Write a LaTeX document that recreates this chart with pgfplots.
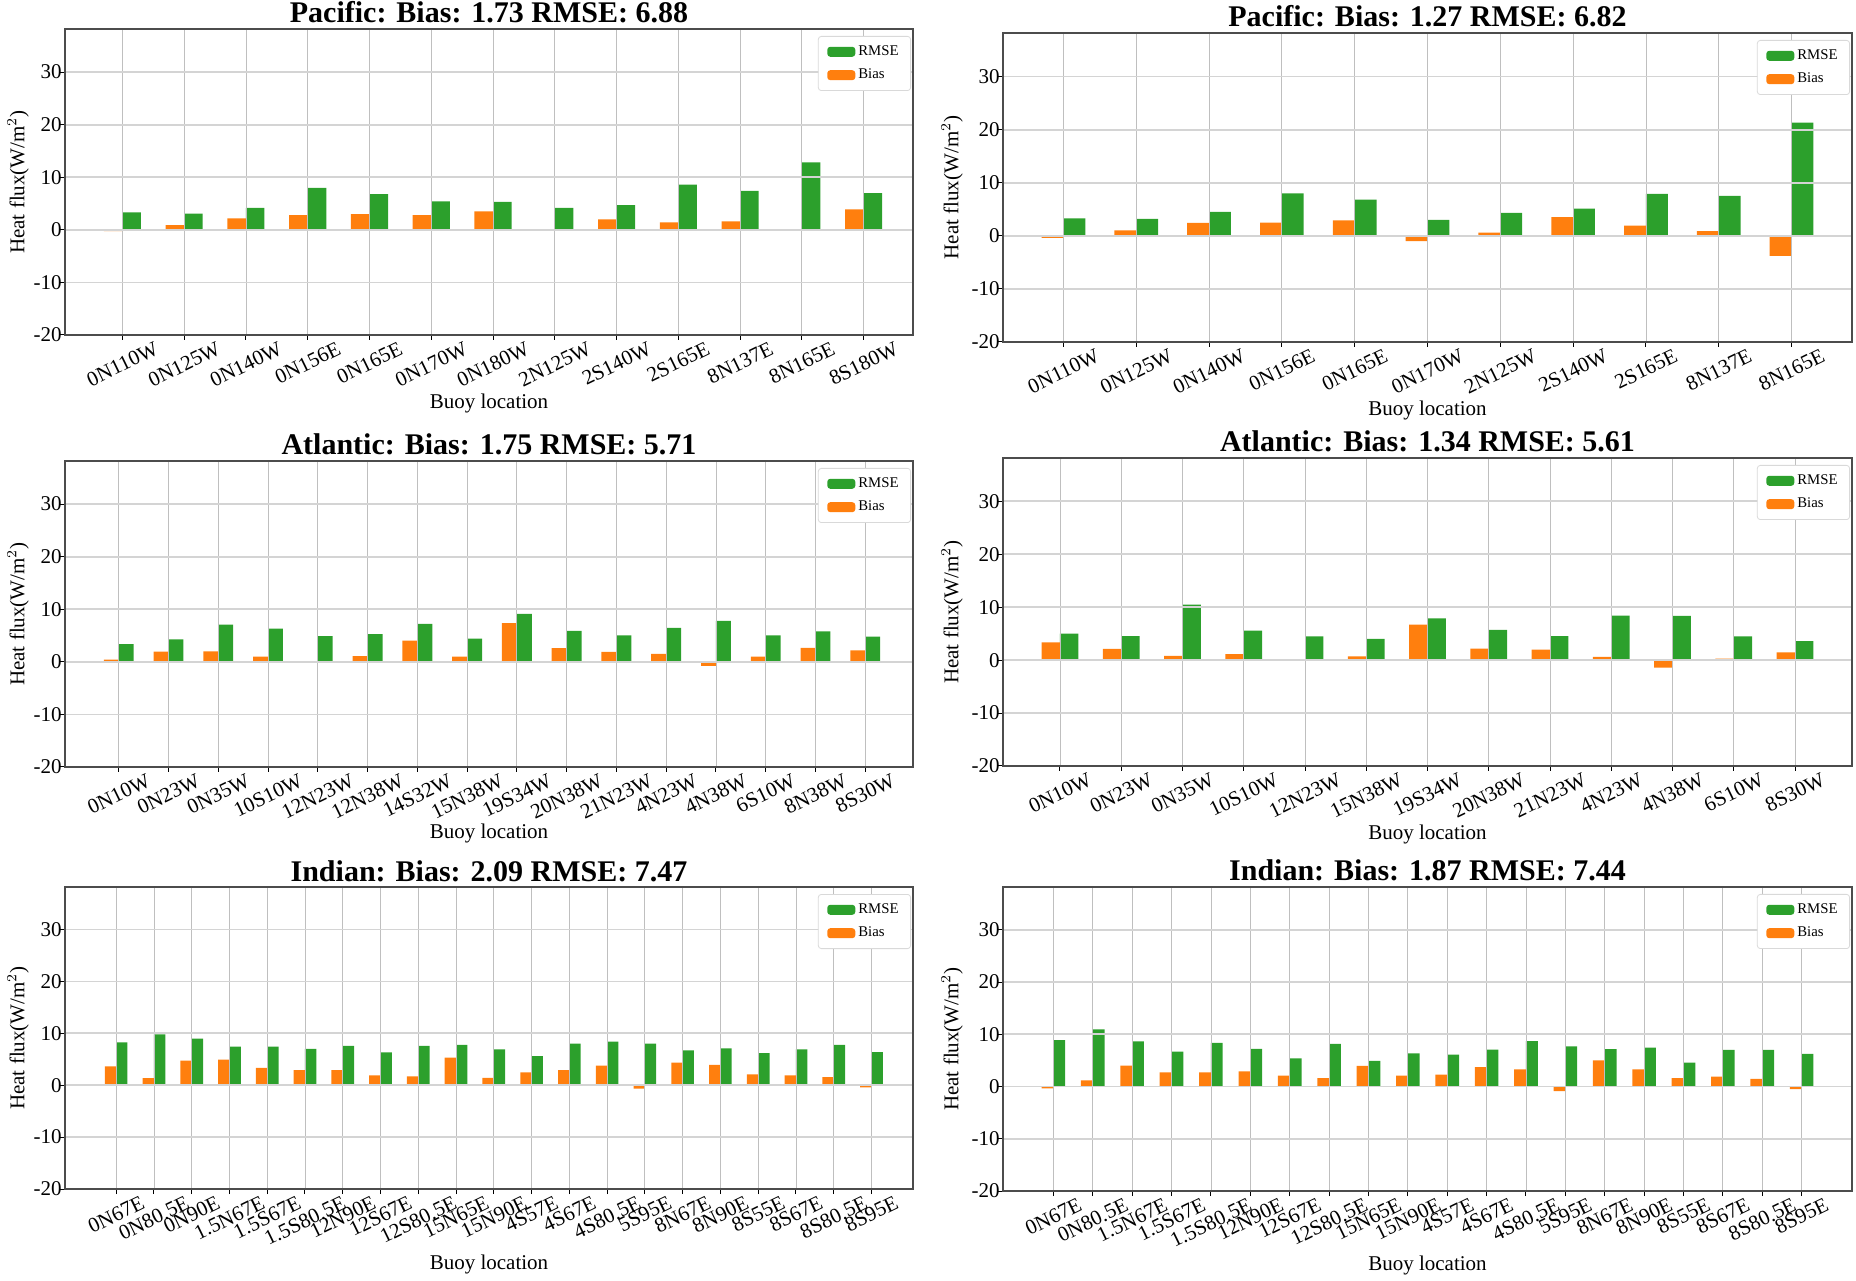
\documentclass[border=0pt]{standalone}
\usepackage{fontspec}
\setmainfont{Liberation Serif}
\usepackage{pgfplots}
\usepackage{pgfplotstable}
\pgfplotsset{compat=1.18}

\definecolor{rmsegreen}{HTML}{2CA02C}
\definecolor{biasorange}{HTML}{FF7F0E}
\newcommand{\rl}[1]{\rotatebox{26}{#1}}

% x = station index, bias and rmse in W/m^2
\pgfplotstableread{
x bias rmse
0 -0.25 3.3
1 0.9 3.1
2 2.2 4.2
3 2.8 8.0
4 3.0 6.8
5 2.8 5.4
6 3.5 5.3
7 0.0 4.2
8 2.0 4.7
9 1.4 8.6
10 1.6 7.4
11 0.0 12.85
12 3.9 7.0
}\pacA
\pgfplotstableread{
x bias rmse
0 -0.4 3.3
1 1.0 3.2
2 2.45 4.5
3 2.5 8.0
4 2.9 6.8
5 -1.0 3.0
6 0.6 4.3
7 3.5 5.1
8 1.9 7.9
9 0.9 7.5
10 -3.8 21.3
}\pacB
\pgfplotstableread{
x bias rmse
0 0.4 3.35
1 1.95 4.25
2 2.0 7.1
3 1.0 6.3
4 0.0 4.9
5 1.1 5.25
6 4.05 7.2
7 1.0 4.4
8 7.35 9.1
9 2.6 5.9
10 1.9 5.05
11 1.5 6.45
12 -0.75 7.8
13 1.0 5.05
14 2.65 5.8
15 2.2 4.8
}\atlA
\pgfplotstableread{
x bias rmse
0 3.35 5.0
1 2.15 4.55
2 0.8 10.5
3 1.15 5.6
4 0.2 4.5
5 0.7 4.0
6 6.7 7.9
7 2.2 5.7
8 2.0 4.55
9 0.6 8.4
10 -1.4 8.35
11 0.3 4.5
12 1.45 3.6
}\atlB
\pgfplotstableread{
x bias rmse
0 3.65 8.25
1 1.35 9.8
2 4.75 9.0
3 4.95 7.45
4 3.35 7.45
5 2.9 7.0
6 2.9 7.6
7 1.9 6.35
8 1.7 7.6
9 5.3 7.8
10 1.4 6.9
11 2.5 5.6
12 2.9 8.0
13 3.8 8.4
14 -0.65 8.0
15 4.35 6.7
16 3.9 7.1
17 2.1 6.2
18 1.9 6.9
19 1.55 7.8
20 -0.4 6.4
}\indA
\pgfplotstableread{
x bias rmse
0 -0.35 8.9
1 1.2 10.95
2 4.0 8.65
3 2.7 6.7
4 2.7 8.35
5 2.9 7.2
6 2.1 5.4
7 1.6 8.15
8 3.95 4.9
9 2.1 6.35
10 2.3 6.1
11 3.7 7.05
12 3.3 8.7
13 -0.9 7.7
14 5.0 7.15
15 3.3 7.45
16 1.6 4.6
17 1.9 7.0
18 1.45 7.0
19 -0.5 6.25
}\indB

\pgfplotsset{
  panel/.style={
    scale only axis,
    axis on top,
    ymin=-20, ymax=38.2,
    ytick={-20,-10,0,10,20,30},
    yticklabels={-20,-10,0,10,20,30},
    xtick=data,
    grid=major,
    x grid style={black!25, line width=0.4pt},
    y grid style={black!17, line width=0.9pt},
    axis line style={black!70, line width=0.8pt},
    tick pos=left,
    tick align=outside,
    major tick length=2.5pt,
    tick style={black, line width=0.5pt},
    yticklabel style={font=\fontsize{10.5}{12}\selectfont, inner xsep=1pt, xshift=2pt},
    xticklabel style={font=\fontsize{10.5}{12}\selectfont, anchor=north, yshift=3pt},
    title style={font=\bfseries\fontsize{15}{18}\selectfont, anchor=base, yshift=-3pt},
    ylabel={Heat flux(W/m$^2$)},
    xlabel={Buoy location},
    label style={font=\fontsize{10.5}{12}\selectfont},
    legend style={at={(1,1)}, anchor=north east, xshift=-1pt, yshift=-3.5pt,
      font=\fontsize{7.4}{8.5}\selectfont, draw=black!15, rounded corners=1.5pt,
      inner xsep=4.5pt, inner ysep=3pt, row sep=2.3pt, nodes={inner sep=1.5pt}},
    legend cell align=left,
    legend image code/.code={\fill[##1] (0pt,-2.5pt) rectangle (14pt,2.5pt);},
  },
  rmse/.style={ybar, bar width=0.3, bar shift=0.15, fill=rmsegreen, draw=none},
  bias/.style={ybar, bar width=0.3, bar shift=-0.15, fill=biasorange, draw=none},
}

\begin{document}
\begin{tikzpicture}
\path[use as bounding box] (0,0) rectangle (928pt,640pt);

% Pacific, left
\begin{axis}[panel, at={(32.5pt,472.5pt)}, anchor=south west, width=424pt, height=153pt,
  xmin=-0.93, xmax=12.8,
  title={Pacific: Bias: 1.73 RMSE: 6.88},
  ylabel style={at={(axis description cs:-0.0554,0.5)}, anchor=center},
  xlabel style={at={(axis description cs:0.5,0)}, anchor=base, yshift=-37pt},
  xticklabels={\rl{0N110W},\rl{0N125W},\rl{0N140W},\rl{0N156E},\rl{0N165E},\rl{0N170W},\rl{0N180W},\rl{2N125W},\rl{2S140W},\rl{2S165E},\rl{8N137E},\rl{8N165E},\rl{8S180W}}]
\addplot[rmse] table[x=x, y=rmse] {\pacA};
\addlegendentry{RMSE}
\addplot[bias] table[x=x, y=bias] {\pacA};
\addlegendentry{Bias}
\end{axis}

% Pacific, right
\begin{axis}[panel, at={(501.5pt,469pt)}, anchor=south west, width=424.5pt, height=154.5pt,
  xmin=-0.83, xmax=10.83,
  title={Pacific: Bias: 1.27 RMSE: 6.82},
  ylabel style={at={(axis description cs:-0.060,0.5)}, anchor=center},
  xlabel style={at={(axis description cs:0.5,0)}, anchor=base, yshift=-37pt},
  xticklabels={\rl{0N110W},\rl{0N125W},\rl{0N140W},\rl{0N156E},\rl{0N165E},\rl{0N170W},\rl{2N125W},\rl{2S140W},\rl{2S165E},\rl{8N137E},\rl{8N165E}}]
\addplot[rmse] table[x=x, y=rmse] {\pacB};
\addlegendentry{RMSE}
\addplot[bias] table[x=x, y=bias] {\pacB};
\addlegendentry{Bias}
\end{axis}

% Atlantic, left
\begin{axis}[panel, at={(32.5pt,256.5pt)}, anchor=south west, width=424pt, height=153pt,
  xmin=-1.08, xmax=15.96,
  title={Atlantic: Bias: 1.75 RMSE: 5.71},
  ylabel style={at={(axis description cs:-0.0554,0.5)}, anchor=center},
  xlabel style={at={(axis description cs:0.5,0)}, anchor=base, yshift=-36pt},
  xticklabels={\rl{0N10W},\rl{0N23W},\rl{0N35W},\rl{10S10W},\rl{12N23W},\rl{12N38W},\rl{14S32W},\rl{15N38W},\rl{19S34W},\rl{20N38W},\rl{21N23W},\rl{4N23W},\rl{4N38W},\rl{6S10W},\rl{8N38W},\rl{8S30W}}]
\addplot[rmse] table[x=x, y=rmse] {\atlA};
\addlegendentry{RMSE}
\addplot[bias] table[x=x, y=bias] {\atlA};
\addlegendentry{Bias}
\end{axis}

% Atlantic, right
\begin{axis}[panel, at={(501.5pt,257pt)}, anchor=south west, width=424.5pt, height=154pt,
  xmin=-0.93, xmax=12.93,
  title={Atlantic: Bias: 1.34 RMSE: 5.61},
  ylabel style={at={(axis description cs:-0.060,0.5)}, anchor=center},
  xlabel style={at={(axis description cs:0.5,0)}, anchor=base, yshift=-37pt},
  xticklabels={\rl{0N10W},\rl{0N23W},\rl{0N35W},\rl{10S10W},\rl{12N23W},\rl{15N38W},\rl{19S34W},\rl{20N38W},\rl{21N23W},\rl{4N23W},\rl{4N38W},\rl{6S10W},\rl{8S30W}}]
\addplot[rmse] table[x=x, y=rmse] {\atlB};
\addlegendentry{RMSE}
\addplot[bias] table[x=x, y=bias] {\atlB};
\addlegendentry{Bias}
\end{axis}

% Indian, left
\begin{axis}[panel, at={(32.5pt,45.5pt)}, anchor=south west, width=424pt, height=151pt,
  xmin=-1.355, xmax=21.1,
  title={Indian: Bias: 2.09 RMSE: 7.47},
  ylabel style={at={(axis description cs:-0.0554,0.5)}, anchor=center},
  xlabel style={at={(axis description cs:0.5,0)}, anchor=base, yshift=-40pt},
  xticklabels={\rl{0N67E},\rl{0N80.5E},\rl{0N90E},\rl{1.5N67E},\rl{1.5S67E},\rl{1.5S80.5E},\rl{12N90E},\rl{12S67E},\rl{12S80.5E},\rl{15N65E},\rl{15N90E},\rl{4S57E},\rl{4S67E},\rl{4S80.5E},\rl{5S95E},\rl{8N67E},\rl{8N90E},\rl{8S55E},\rl{8S67E},\rl{8S80.5E},\rl{8S95E}}]
\addplot[rmse] table[x=x, y=rmse] {\indA};
\addlegendentry{RMSE}
\addplot[bias] table[x=x, y=bias] {\indA};
\addlegendentry{Bias}
\end{axis}

% Indian, right
\begin{axis}[panel, at={(501.5pt,44.5pt)}, anchor=south west, width=424.5pt, height=152pt,
  xmin=-1.28, xmax=20.28,
  title={Indian: Bias: 1.87 RMSE: 7.44},
  ylabel style={at={(axis description cs:-0.060,0.5)}, anchor=center},
  xlabel style={at={(axis description cs:0.5,0)}, anchor=base, yshift=-39.5pt},
  xticklabels={\rl{0N67E},\rl{0N80.5E},\rl{1.5N67E},\rl{1.5S67E},\rl{1.5S80.5E},\rl{12N90E},\rl{12S67E},\rl{12S80.5E},\rl{15N65E},\rl{15N90E},\rl{4S57E},\rl{4S67E},\rl{4S80.5E},\rl{5S95E},\rl{8N67E},\rl{8N90E},\rl{8S55E},\rl{8S67E},\rl{8S80.5E},\rl{8S95E}}]
\addplot[rmse] table[x=x, y=rmse] {\indB};
\addlegendentry{RMSE}
\addplot[bias] table[x=x, y=bias] {\indB};
\addlegendentry{Bias}
\end{axis}
\end{tikzpicture}
\end{document}
